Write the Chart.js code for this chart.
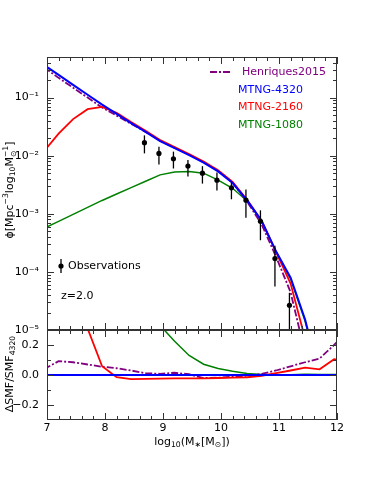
<!DOCTYPE html>
<html>
<head>
<meta charset="utf-8">
<script src="https://cdn.jsdelivr.net/npm/chart.js@4.4.1/dist/chart.umd.min.js"></script>
<style>
    html, body { margin: 0; padding: 0; background: #fff; }
    canvas { display: block; }
</style>
</head>
<body>
<canvas id="chart" width="374" height="481"></canvas>
<script>
// Stellar mass bins, log10(M*/Msun)
const massBins = [6.95, 7.2, 7.45, 7.7, 7.95, 8.2, 8.45, 8.7, 8.95, 9.2, 9.45, 9.7, 9.95, 10.2, 10.45, 10.7, 10.95, 11.2, 11.45, 11.7, 11.95, 12.2];

// Top panel: log10 of phi for each model
const henriquesLog = [-0.48, -0.66, -0.83, -1.0, -1.17, -1.31, -1.45, -1.59, -1.74, -1.86, -1.98, -2.11, -2.26, -2.46, -2.79, -3.18, -3.74, -4.35, -5.4, -6.4, -7.4, -8.4];
const mtng4320Log = [-0.44, -0.61, -0.78, -0.95, -1.12, -1.28, -1.44, -1.59, -1.75, -1.87, -1.99, -2.12, -2.27, -2.47, -2.77, -3.12, -3.65, -4.1, -4.82, -5.8, -6.8, -7.8];
const mtng2160Log = [-1.92, -1.62, -1.37, -1.2, -1.16, -1.26, -1.42, -1.57, -1.73, -1.85, -1.97, -2.1, -2.25, -2.45, -2.76, -3.12, -3.66, -4.2, -5.15, -6.2, -7.2, -8.2];
const mtng1080Log = [-3.25, -3.13, -3.01, -2.89, -2.77, -2.66, -2.55, -2.44, -2.33, -2.28, -2.27, -2.3, -2.42, -2.56, -2.78, -3.13, -3.65, -4.12, -4.85, -5.8, -6.8, -7.8];

// Bottom panel: relative difference to MTNG-4320
const henriquesDiff = [0.04, 0.092, 0.085, 0.07, 0.055, 0.045, 0.03, 0.012, 0.008, 0.015, 0.005, -0.02, -0.018, -0.012, -0.005, 0.008, 0.03, 0.058, 0.085, 0.11, 0.2, 0.3];
const mtng4320Diff = [0, 0, 0, 0, 0, 0, 0, 0, 0, 0, 0, 0, 0, 0, 0, 0, 0, 0, 0, 0, 0, 0];
const mtng2160Diff = [2.0, 1.2, 0.6, 0.31, 0.058, -0.015, -0.028, -0.026, -0.024, -0.022, -0.022, -0.022, -0.02, -0.018, -0.015, -0.005, 0.012, 0.03, 0.049, 0.038, 0.105, 0.09];
const mtng1080Diff = [3.0, 3.0, 3.0, 2.0, 1.5, 1.0, 0.7, 0.5, 0.33, 0.225, 0.13, 0.072, 0.043, 0.025, 0.01, 0.003, 0.0, 0.002, 0.005, 0.003, 0.003, 0.003];

// Observations (log10 phi with error bar ends)
const obsMass = [8.68, 8.93, 9.18, 9.43, 9.68, 9.93, 10.18, 10.43, 10.68, 10.93, 11.18];
const obsLog = [-1.776, -1.96, -2.052, -2.179, -2.3, -2.421, -2.552, -2.766, -3.128, -3.771, -4.576];
const obsLowLog = [-1.96, -2.15, -2.22, -2.36, -2.48, -2.6, -2.75, -3.07, -3.455, -4.25, -6.0];
const obsHighLog = [-1.65, -1.845, -1.93, -2.076, -2.18, -2.29, -2.44, -2.58, -2.94, -3.55, -4.36];

// Axis ticks
const xTicks = [7, 8, 9, 10, 11, 12];
const phiTicks = [1e-5, 1e-4, 1e-3, 1e-2, 1e-1];
const diffTicks = [-0.2, 0, 0.2];

const FONT = 'DejaVu Sans';
const SUP = {'-': '⁻', '0': '⁰', '1': '¹', '2': '²', '3': '³', '4': '⁴', '5': '⁵', '6': '⁶', '7': '⁷', '8': '⁸', '9': '⁹'};

const logPoints = (xs, ys) => xs.map((m, i) => ({x: m, y: Math.pow(10, ys[i])}));
const linPoints = (xs, ys) => xs.map((m, i) => ({x: m, y: ys[i]}));

const lineSet = (label, data, color, width, axis, order, dash) => ({
    label: label,
    data: data,
    borderColor: color,
    borderWidth: width,
    borderDash: dash || [],
    pointRadius: 0,
    tension: 0,
    fill: false,
    yAxisID: axis,
    order: order
});

// Draw text with sub/superscripts, centred on (cx, cy)
function drawRich(ctx, parts, cx, cy, size, rotate) {
    const small = size * 0.7;
    const widthOf = (p) => {
        if (p[1] === '') {
            ctx.font = size + 'px "' + FONT + '"';
            return ctx.measureText(p[0]).width;
        }
        ctx.font = small + 'px "' + FONT + '"';
        if (p[1] === 'both') {
            return Math.max(ctx.measureText(p[0][0]).width, ctx.measureText(p[0][1]).width);
        }
        return ctx.measureText(p[0]).width;
    };
    const total = parts.reduce((s, p) => s + widthOf(p), 0);
    ctx.save();
    ctx.translate(cx, cy);
    if (rotate) ctx.rotate(-Math.PI / 2);
    ctx.fillStyle = '#000';
    ctx.textAlign = 'left';
    ctx.textBaseline = 'alphabetic';
    let x = -total / 2;
    const base = size * 0.36;
    parts.forEach(p => {
        const w = widthOf(p);
        if (p[1] === '') {
            ctx.font = size + 'px "' + FONT + '"';
            ctx.fillText(p[0], x, base);
        } else {
            ctx.font = small + 'px "' + FONT + '"';
            if (p[1] === 'sub') ctx.fillText(p[0], x, base + size * 0.22);
            if (p[1] === 'sup') ctx.fillText(p[0], x, base - size * 0.42);
            if (p[1] === 'both') {
                ctx.fillText(p[0][0], x, base + size * 0.25);
                ctx.fillText(p[0][1], x, base - size * 0.45);
            }
        }
        x += w;
    });
    ctx.restore();
}

const decorPlugin = {
    id: 'decor',
    afterDatasetsDraw(chart) {
        const ctx = chart.ctx;
        const xs = chart.scales.x;
        const ys = chart.scales.y;
        const ys2 = chart.scales.y2;

        // Error bars of the observations
        ctx.save();
        ctx.beginPath();
        ctx.rect(xs.left, ys.top, xs.right - xs.left, ys.bottom - ys.top);
        ctx.clip();
        ctx.strokeStyle = '#000';
        ctx.lineWidth = 1.3;
        obsMass.forEach((m, i) => {
            const px = xs.getPixelForValue(m);
            ctx.beginPath();
            ctx.moveTo(px, ys.getPixelForValue(Math.pow(10, obsLowLog[i])));
            ctx.lineTo(px, ys.getPixelForValue(Math.pow(10, obsHighLog[i])));
            ctx.stroke();
        });
        ctx.restore();

        // Frames and inward ticks
        ctx.save();
        ctx.strokeStyle = '#333';
        ctx.lineWidth = 1;
        const panels = [ys, ys2];
        panels.forEach(p => {
            ctx.strokeRect(xs.left + 0.5, p.top + 0.5, xs.right - xs.left - 1, p.bottom - p.top - 1);
        });
        const tick = (x1, y1, x2, y2) => {
            ctx.beginPath();
            ctx.moveTo(x1, y1);
            ctx.lineTo(x2, y2);
            ctx.stroke();
        };
        // x ticks
        for (let v = 7; v <= 12.001; v += 0.2) {
            const major = Math.abs(v - Math.round(v)) < 1e-6;
            const len = major ? 7 : 4;
            const px = Math.round(xs.getPixelForValue(v)) + 0.5;
            panels.forEach(p => {
                tick(px, p.top, px, p.top + len);
                tick(px, p.bottom, px, p.bottom - len);
            });
        }
        // log y ticks
        for (let d = -5; d <= -1; d++) {
            for (let k = 1; k <= 9; k++) {
                const v = k * Math.pow(10, d);
                if (v > ys.max) continue;
                const len = k === 1 ? 7 : 4;
                const py = Math.round(ys.getPixelForValue(v)) + 0.5;
                tick(xs.left, py, xs.left + len, py);
                tick(xs.right, py, xs.right - len, py);
            }
        }
        // ratio y ticks
        [-0.2, -0.1, 0, 0.1, 0.2].forEach((v, i) => {
            const len = i % 2 === 0 ? 7 : 4;
            const py = Math.round(ys2.getPixelForValue(v)) + 0.5;
            tick(xs.left, py, xs.left + len, py);
            tick(xs.right, py, xs.right - len, py);
        });
        ctx.restore();

        // Legend
        ctx.save();
        ctx.font = '11px "' + FONT + '"';
        ctx.textBaseline = 'middle';
        ctx.textAlign = 'left';
        ctx.strokeStyle = '#800080';
        ctx.lineWidth = 1.8;
        ctx.setLineDash([7, 2, 2, 2]);
        tick(210, 72, 231, 72);
        ctx.setLineDash([]);
        ctx.fillStyle = '#800080';
        ctx.fillText('Henriques2015', 242, 72);
        ctx.fillStyle = '#0000ff';
        ctx.fillText('MTNG-4320', 238, 90);
        ctx.fillStyle = '#ff0000';
        ctx.fillText('MTNG-2160', 238, 107);
        ctx.fillStyle = '#008000';
        ctx.fillText('MTNG-1080', 238, 125);

        ctx.strokeStyle = '#000';
        ctx.fillStyle = '#000';
        ctx.lineWidth = 1.3;
        tick(61, 259, 61, 273);
        ctx.beginPath();
        ctx.arc(61, 266, 2.6, 0, Math.PI * 2);
        ctx.fill();
        ctx.fillText('Observations', 68, 266);
        ctx.fillText('z=2.0', 61, 296);
        ctx.restore();

        // Axis titles
        drawRich(ctx, [['ϕ[Mpc', ''], ['−3', 'sup'], ['log', ''], ['10', 'sub'], ['M', ''], [['⊙', '−1'], 'both'], [']', '']], 9, 190, 11, true);
        drawRich(ctx, [['ΔSMF/SMF', ''], ['4320', 'sub']], 9, 374, 11, true);
        drawRich(ctx, [['log', ''], ['10', 'sub'], ['(M', ''], ['∗', 'sub'], ['[M', ''], ['⊙', 'sub'], ['])', '']], 192, 441, 11, false);
    }
};

const tickFont = {family: FONT, size: 11};

new Chart(document.getElementById('chart').getContext('2d'), {
    type: 'line',
    data: {
        datasets: [
            lineSet('Henriques2015', logPoints(massBins, henriquesLog), '#800080', 1.8, 'y', 3, [7, 2, 2, 2]),
            lineSet('MTNG-4320', logPoints(massBins, mtng4320Log), '#0000ff', 2, 'y', 1),
            lineSet('MTNG-2160', logPoints(massBins, mtng2160Log), '#ff0000', 1.8, 'y', 2),
            lineSet('MTNG-1080', logPoints(massBins, mtng1080Log), '#008000', 1.5, 'y', 4),
            {
                label: 'Observations',
                data: logPoints(obsMass, obsLog),
                showLine: false,
                pointRadius: 2.6,
                pointBackgroundColor: '#000',
                pointBorderColor: '#000',
                pointBorderWidth: 0,
                yAxisID: 'y',
                order: 0
            },
            lineSet('Henriques2015 diff', linPoints(massBins, henriquesDiff), '#800080', 1.8, 'y2', 3, [7, 2, 2, 2]),
            lineSet('MTNG-4320 diff', linPoints(massBins, mtng4320Diff), '#0000ff', 2, 'y2', 1),
            lineSet('MTNG-2160 diff', linPoints(massBins, mtng2160Diff), '#ff0000', 1.8, 'y2', 2),
            lineSet('MTNG-1080 diff', linPoints(massBins, mtng1080Diff), '#008000', 1.5, 'y2', 4)
        ]
    },
    options: {
        responsive: false,
        animation: false,
        devicePixelRatio: 1,
        layout: {padding: {top: 57, right: 37, bottom: 0, left: 0}},
        plugins: {legend: {display: false}, tooltip: {enabled: false}},
        scales: {
            x: {
                type: 'linear',
                min: 7,
                max: 12,
                afterBuildTicks: s => { s.ticks = xTicks.map(v => ({value: v})); },
                afterFit: s => { s.height = 61; },
                grid: {display: false, drawTicks: false},
                border: {display: false},
                ticks: {font: tickFont, color: '#000', padding: 2, maxRotation: 0, callback: v => String(v)}
            },
            y: {
                type: 'logarithmic',
                position: 'left',
                weight: 1,
                stack: 'panels',
                stackWeight: 273,
                min: 1e-5,
                max: 0.5,
                afterBuildTicks: s => { s.ticks = phiTicks.map(v => ({value: v})); },
                afterFit: s => { s.width = 47; },
                grid: {display: false, drawTicks: false},
                border: {display: false},
                ticks: {
                    font: tickFont, color: '#000', padding: 8,
                    callback: v => '10' + String(Math.round(Math.log10(v))).split('').map(c => SUP[c]).join('')
                }
            },
            y2: {
                type: 'linear',
                position: 'left',
                weight: 0,
                stack: 'panels',
                stackWeight: 90,
                min: -0.3,
                max: 0.3,
                afterBuildTicks: s => { s.ticks = diffTicks.map(v => ({value: v})); },
                afterFit: s => { s.width = 47; },
                grid: {display: false, drawTicks: false},
                border: {display: false},
                ticks: {font: tickFont, color: '#000', padding: 8, callback: v => v.toFixed(1).replace('-', '−')}
            }
        }
    },
    plugins: [decorPlugin]
});
</script>
</body>
</html>
